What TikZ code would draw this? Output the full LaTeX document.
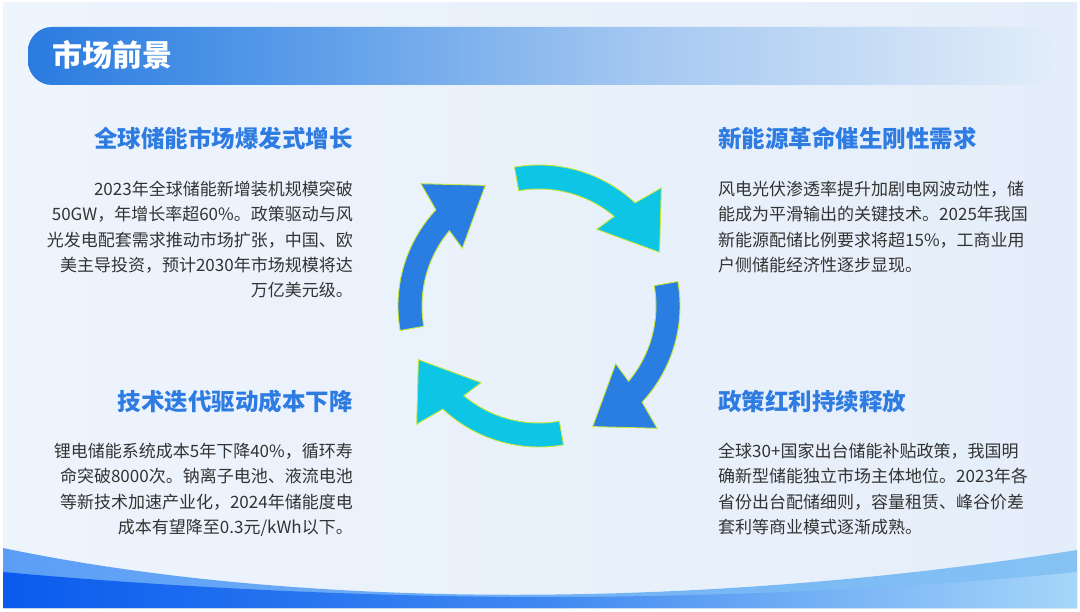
\documentclass[tikz,border=0pt]{standalone}
\usepackage{fontspec}
\setmainfont{Noto Sans CJK SC}
\newfontfamily\cjk{Noto Sans CJK SC}
\definecolor{bgL}{HTML}{EEF4FC}
\definecolor{bgR}{HTML}{E4EEFA}
\definecolor{tbA}{HTML}{2A7BE0}
\definecolor{tbB}{HTML}{5599E8}
\definecolor{tbC}{HTML}{A5C8F1}
\definecolor{tbD}{HTML}{E2EDF9}
\definecolor{headblue}{HTML}{2E7CE2}
\definecolor{bodygray}{HTML}{333333}
\definecolor{arrowdark}{HTML}{2A7DE1}
\definecolor{arrowcyan}{HTML}{0DC5E4}
\definecolor{edgeY}{HTML}{C9E83A}
\definecolor{wvA}{HTML}{0A5BEE}
\definecolor{wvB}{HTML}{3F88F1}
\definecolor{wvC}{HTML}{A6D6F9}
\definecolor{wuA}{HTML}{5C9EF6}
\definecolor{wuB}{HTML}{86C3F4}
\pgfdeclarehorizontalshading{titlebar}{100bp}{color(0bp)=(tbA); color(25bp)=(tbA); color(37bp)=(tbB); color(55bp)=(tbC); color(75bp)=(tbD); color(100bp)=(tbD)}
\pgfdeclarehorizontalshading{wavelow}{100bp}{color(0bp)=(wvA); color(25bp)=(wvA); color(50bp)=(wvB); color(75bp)=(wvC); color(100bp)=(wvC)}
\tikzset{
  head/.style={text=headblue, font=\cjk\bfseries\fontsize{23.5}{28}\selectfont, inner sep=0pt},
  body/.style={text=bodygray, font=\cjk\fontsize{17}{25.3}\selectfont, inner sep=0pt},
  darkarrow/.style={fill=arrowdark, draw=edgeY, line width=0.9pt, line join=miter},
  cyanarrow/.style={fill=arrowcyan, draw=edgeY, line width=0.9pt, line join=miter}
}
\newcommand\ringarrow[2]{%
  \path[#1] (#2:141) arc[start angle=#2, end angle=#2-53, radius=141]
    -- (#2-56:170) -- (#2-76:132) -- (#2-47:96) -- (#2-50:117)
    arc[start angle=#2-50, end angle=#2, radius=117] -- cycle;}
\begin{document}
\begin{tikzpicture}[x=1pt,y=-1pt]
\useasboundingbox (0,0) rectangle (1080,612);
\fill[white] (0,0) rectangle (1080,612);
\shade[left color=bgL, right color=bgR] (3,3) rectangle (1077,608);
% bottom waves
\shade[left color=wuA, right color=wuB] (3,548) .. controls (300,610) and (700,610) .. (1077,550) -- (1077,608) -- (3,608) -- cycle;
\shade[shading=wavelow] (3,572) .. controls (200,590) and (400,597) .. (540,597) .. controls (700,597) and (900,590) .. (1077,572) -- (1077,608) -- (3,608) -- cycle;
% title bar
\shade[shading=titlebar, rounded corners=24pt] (28,27) rectangle (1055,85);
\node[anchor=west, text=white, font=\cjk\bfseries\fontsize{30}{30}\selectfont, inner sep=0pt] (title) at (52,55) {市场前景};
% cycle arrows
\begin{scope}[shift={(539,306)}, y=1pt]
  \ringarrow{cyanarrow}{100}
  \ringarrow{darkarrow}{10}
  \ringarrow{cyanarrow}{-80}
  \ringarrow{darkarrow}{-170}
\end{scope}
% texts
\node[head, anchor=east] (h1) at (353,138) {全球储能市场爆发式增长};
\node[body, align=right, anchor=north east] (b1) at (353,181) {2023年全球储能新增装机规模突破\\50GW，年增长率超60\%。政策驱动与风\\光发电配套需求推动市场扩张，中国、欧\\美主导投资，预计2030年市场规模将达\\万亿美元级。};
\node[head, anchor=west] (h2) at (718,138) {新能源革命催生刚性需求};
\node[body, align=left, anchor=north west] (b2) at (718,181) {风电光伏渗透率提升加剧电网波动性，储\\能成为平滑输出的关键技术。2025年我国\\新能源配储比例要求将超15\%，工商业用\\户侧储能经济性逐步显现。};
\node[head, anchor=east] (h3) at (353,402) {技术迭代驱动成本下降};
\node[body, align=right, anchor=north east] (b3) at (353,443) {锂电储能系统成本5年下降40\%，循环寿\\命突破8000次。钠离子电池、液流电池\\等新技术加速产业化，2024年储能度电\\成本有望降至0.3元/kWh以下。};
\node[head, anchor=west] (h4) at (718,402) {政策红利持续释放};
\node[body, align=left, anchor=north west] (b4) at (718,443) {全球30+国家出台储能补贴政策，我国明\\确新型储能独立市场主体地位。2023年各\\省份出台配储细则，容量租赁、峰谷价差\\套利等商业模式逐渐成熟。};
\end{tikzpicture}
\end{document}
